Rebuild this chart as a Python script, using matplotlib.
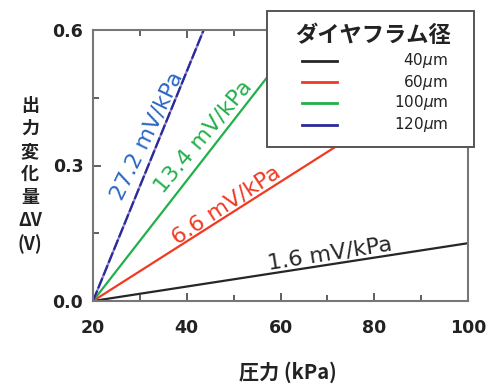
import matplotlib
matplotlib.use("Agg")
import matplotlib.pyplot as plt
from matplotlib.patches import Rectangle
from matplotlib.lines import Line2D
from matplotlib.ticker import MultipleLocator

JP = ['Noto Sans CJK JP', 'DejaVu Sans']

# ---- data ----
series_names = ['40$\\mu$m', '60$\\mu$m', '100$\\mu$m', '120$\\mu$m']
sens_labels = ['1.6 mV/kPa', '6.6 mV/kPa', '13.4 mV/kPa', '27.2 mV/kPa']
x_40 = [20, 100];  y_40 = [0.0, 0.128]
x_60 = [20, 100];  y_60 = [0.0, 0.528]
x_100 = [20, 80];  y_100 = [0.0, 0.80]
x_120 = [20, 44];  y_120 = [0.0, 0.61]
line_colors = ['#262626', '#f03a22', '#22b04a', '#2a2a9a']
text_colors = ['#262626', '#f03a22', '#22b04a', '#2a66c4']
x_ticks = [20, 40, 60, 80, 100]
y_ticks = [0.0, 0.3, 0.6]
x_label = '圧力 (kPa)'
y_label = '出\n力\n変\n化\n量\nΔV\n(V)'
legend_title = 'ダイヤフラム径'

W, H = 493, 385
fig = plt.figure(figsize=(W / 100, H / 100), dpi=100)
L, R, T, B = 93, 468, 30, 301
ax = fig.add_axes([L / W, 1 - B / H, (R - L) / W, (B - T) / H])

xs = [x_40, x_60, x_100, x_120]
ys = [y_40, y_60, y_100, y_120]
styles = ['-', '-', '-', (0, (5, 1.2))]
for x, y, c, ls in zip(xs, ys, line_colors, styles):
    if ls != '-':
        ax.plot(x, y, color='#8f86cc', lw=1.6)
    ax.plot(x, y, color=c, lw=1.6, linestyle=ls, solid_capstyle='butt')

ax.set_xlim(20, 100)
ax.set_ylim(0, 0.6)
ax.set_xticks(x_ticks)
ax.set_yticks(y_ticks)
ax.xaxis.set_minor_locator(MultipleLocator(10))
ax.yaxis.set_minor_locator(MultipleLocator(0.15))
ax.set_xticklabels([str(v) for v in x_ticks])
ax.set_yticklabels([f'{v:.1f}' for v in y_ticks])
ax.tick_params(which='both', direction='in', color='#444444', width=1.2,
               top=True, right=False)
ax.tick_params(which='major', length=6, labelsize=12.5, labelcolor='#222222')
ax.tick_params(axis='x', which='major', pad=13)
ax.tick_params(axis='y', which='major', pad=7)
ax.tick_params(which='minor', length=4)
for lab in ax.get_xticklabels() + ax.get_yticklabels():
    lab.set_fontweight('bold')
    lab.set_family('DejaVu Sans')
for s in ax.spines.values():
    s.set_color('#777777')
    s.set_linewidth(1.5)

# slope annotations
ann_pos = [(70.6, 0.104), (48.4, 0.2125), (43.5, 0.363), (31.5, 0.365)]
ann_rot = [9, 33.5, 50, 64]
for (px, py), rot, t, c in zip(ann_pos, ann_rot, sens_labels, text_colors):
    ax.text(px, py, t, color=c, fontsize=16, rotation=rot,
            ha='center', va='center', rotation_mode='anchor',
            family='DejaVu Sans')

# axis labels
fig.text(30 / W, 1 - 175 / H, y_label, family=JP, fontsize=13, fontweight='bold',
         ha='center', va='center', linespacing=1.26, color='#222222')
fig.text(288 / W, 1 - 372 / H, x_label, family=JP, fontsize=14.5, fontweight='bold',
         ha='center', va='center', color='#222222')

# legend box (figure coords)
lx0, ly0, lx1, ly1 = 267, 11, 474, 147
fig.patches.append(Rectangle((lx0 / W, 1 - ly1 / H), (lx1 - lx0) / W, (ly1 - ly0) / H,
                             transform=fig.transFigure, facecolor='white',
                             edgecolor='#555555', lw=1.4, zorder=5))
fig.text(373 / W, 1 - 35 / H, legend_title, family=JP, fontsize=16,
         fontweight='bold', ha='center', va='center', zorder=6, color='#222222')
rows = [61, 82, 103, 125]
for yy, name, c in zip(rows, series_names, line_colors):
    fig.lines.append(Line2D([302 / W, 337 / W], [1 - yy / H, 1 - yy / H],
                            transform=fig.transFigure, color=c, lw=2, zorder=6))
    fig.text(448 / W, 1 - yy / H, name, family='DejaVu Sans', fontsize=11,
             ha='right', va='center', zorder=6, color='#222222')

fig.savefig('out.png', dpi=100)
